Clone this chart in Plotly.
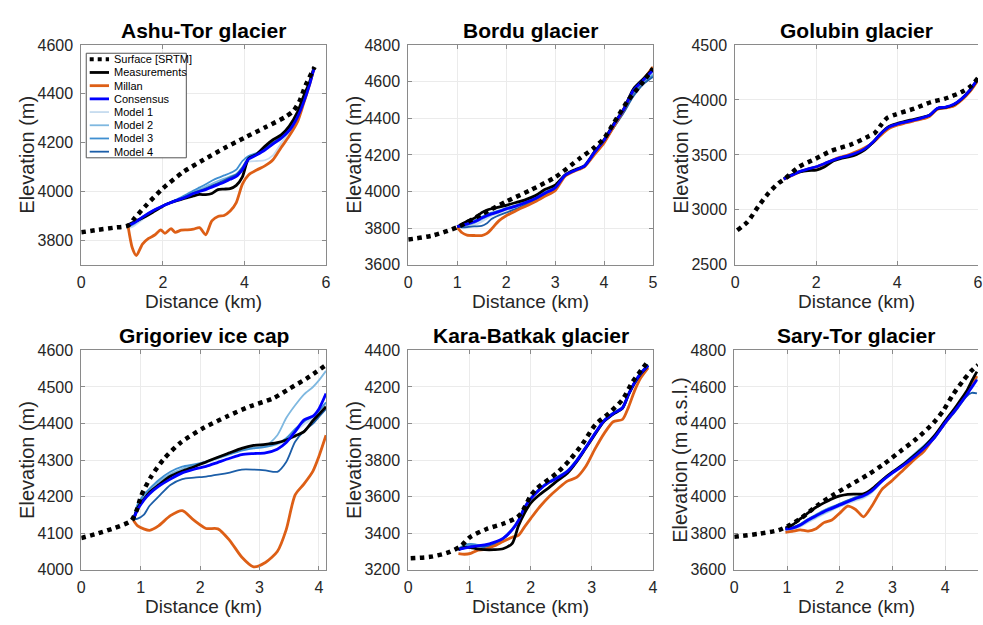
import plotly.graph_objects as go

FIG_W, FIG_H = 983, 625
FONT = "Liberation Sans, Arial, Helvetica, sans-serif"
TXT = "#262626"

# ---------------- Ashu-Tor glacier ----------------
ashu_srtm_km = [0.0, 0.4, 0.8, 1.15, 1.3, 1.6, 2.0, 2.5, 3.0, 3.5, 4.0, 4.5, 5.0, 5.2, 5.35, 5.5, 5.72]
ashu_srtm_m = [3833, 3843, 3852, 3861, 3890, 3945, 4013, 4080, 4130, 4177, 4220, 4262, 4305, 4330, 4370, 4435, 4510]
ashu_km = [1.15, 1.25, 1.35, 1.5, 1.65, 1.8, 1.95, 2.05, 2.2, 2.3, 2.45, 2.6, 2.75, 2.9, 3.05, 3.2,
           3.35, 3.5, 3.65, 3.8, 3.95, 4.1, 4.3, 4.5, 4.7, 4.9, 5.1, 5.3, 5.45, 5.6, 5.7]
ashu_meas = [3863, 3872, 3880, 3892, 3905, 3920, 3935, 3945, 3955, 3961, 3968, 3975, 3982, 3988, 3987, 3992,
             4008, 4010, 4012, 4025, 4060, 4135, 4152, 4185, 4212, 4232, 4268, 4325, 4390, 4450, 4505]
ashu_millan = [3855, 3770, 3738, 3785, 3808, 3822, 3843, 3829, 3848, 3833, 3842, 3843, 3846, 3852, 3823, 3880,
               3898, 3902, 3920, 3955, 4030, 4068, 4088, 4105, 4130, 4180, 4228, 4285, 4360, 4440, 4500]
ashu_consensus = [3860, 3868, 3878, 3895, 3911, 3925, 3937, 3945, 3955, 3962, 3970, 3980, 3992, 4000, 4008, 4018,
                  4028, 4038, 4050, 4062, 4090, 4132, 4150, 4170, 4195, 4218, 4250, 4305, 4365, 4440, 4500]
ashu_model1 = [3850, 3855, 3866, 3885, 3905, 3921, 3935, 3944, 3955, 3962, 3971, 3982, 3994, 4003, 4012, 4022,
               4033, 4043, 4052, 4062, 4088, 4122, 4125, 4128, 4148, 4198, 4245, 4300, 4362, 4438, 4498]
ashu_model2 = [3855, 3862, 3872, 3890, 3908, 3923, 3936, 3945, 3956, 3964, 3974, 3986, 3999, 4010, 4020, 4032,
               4043, 4053, 4062, 4072, 4100, 4138, 4155, 4172, 4193, 4215, 4248, 4302, 4363, 4440, 4500]
ashu_model3 = [3858, 3866, 3876, 3893, 3910, 3925, 3938, 3947, 3957, 3965, 3976, 3990, 4004, 4017, 4030, 4044,
               4056, 4066, 4076, 4090, 4125, 4145, 4158, 4178, 4200, 4222, 4255, 4308, 4366, 4442, 4500]
ashu_model4 = [3860, 3869, 3879, 3896, 3912, 3926, 3938, 3946, 3956, 3963, 3972, 3983, 3995, 4004, 4013, 4024,
               4035, 4046, 4058, 4070, 4098, 4138, 4155, 4175, 4200, 4222, 4256, 4310, 4368, 4442, 4502]

# ---------------- Bordu glacier ----------------
bordu_srtm_km = [0.0, 0.5, 1.0, 1.5, 2.0, 2.5, 3.0, 3.5, 3.8, 4.0, 4.2, 4.5, 4.8, 5.0]
bordu_srtm_m = [3738, 3760, 3805, 3876, 3945, 4008, 4078, 4180, 4240, 4290, 4375, 4500, 4600, 4672]
bordu_km = [1.0, 1.1, 1.2, 1.35, 1.5, 1.6, 1.7, 1.85, 2.0, 2.2, 2.4, 2.6, 2.8, 3.0, 3.2, 3.4, 3.6, 3.8,
            4.0, 4.2, 4.4, 4.6, 4.8, 5.0]
bordu_meas = [3808, 3822, 3838, 3855, 3885, 3898, 3906, 3915, 3925, 3940, 3956, 3978, 4012, 4035, 4090, 4118,
              4140, 4215, 4282, 4370, 4450, 4560, 4615, 4670]
bordu_millan = [3805, 3775, 3762, 3760, 3760, 3770, 3795, 3840, 3868, 3895, 3920, 3945, 3975, 4005, 4082, 4112,
                4135, 4200, 4265, 4355, 4445, 4550, 4610, 4680]
bordu_consensus = [3808, 3815, 3822, 3835, 3855, 3868, 3878, 3890, 3905, 3920, 3940, 3962, 3992, 4020, 4088, 4115,
                   4140, 4212, 4280, 4365, 4448, 4552, 4608, 4662]
bordu_model1 = [3808, 3800, 3802, 3815, 3835, 3852, 3868, 3882, 3898, 3915, 3936, 3958, 3988, 4018, 4086, 4114,
                4140, 4210, 4278, 4360, 4442, 4545, 4600, 4650]
bordu_model2 = [3808, 3810, 3815, 3828, 3848, 3862, 3874, 3887, 3902, 3918, 3938, 3960, 3990, 4020, 4087, 4115,
                4140, 4210, 4275, 4358, 4440, 4540, 4595, 4640]
bordu_model3 = [3808, 3818, 3828, 3842, 3862, 3875, 3885, 3896, 3910, 3925, 3945, 3968, 3998, 4025, 4088, 4115,
                4138, 4205, 4270, 4350, 4432, 4530, 4590, 4632]
bordu_model4 = [3808, 3805, 3806, 3810, 3812, 3825, 3850, 3870, 3885, 3905, 3930, 3955, 3985, 4015, 4085, 4112,
                4138, 4205, 4272, 4350, 4430, 4520, 4585, 4625]

# ---------------- Golubin glacier ----------------
golubin_srtm_km = [0.05, 0.3, 0.58, 0.83, 1.07, 1.24, 1.57, 1.98, 2.38, 2.88, 3.29, 3.45, 3.6, 3.75, 3.94,
                   4.43, 4.84, 5.17, 5.58, 5.83, 6.0]
golubin_srtm_m = [2815, 2889, 3037, 3155, 3243, 3287, 3390, 3464, 3538, 3597, 3668, 3700, 3770, 3835, 3865,
                  3922, 3981, 4010, 4069, 4128, 4200]
golubin_km = [1.2, 1.4, 1.6, 1.8, 2.0, 2.2, 2.4, 2.6, 2.8, 3.0, 3.2, 3.4, 3.6, 3.8, 4.0, 4.2, 4.4, 4.6,
              4.8, 5.0, 5.2, 5.4, 5.6, 5.8, 6.0]
golubin_meas = [3285, 3320, 3345, 3358, 3362, 3390, 3440, 3465, 3482, 3505, 3545, 3612, 3695, 3758, 3785, 3805,
                3822, 3840, 3860, 3922, 3932, 3955, 4010, 4088, 4192]
golubin_millan = [3278, 3312, 3348, 3370, 3390, 3418, 3452, 3480, 3500, 3530, 3565, 3610, 3680, 3740, 3770, 3790,
                  3808, 3825, 3850, 3915, 3928, 3945, 4000, 4075, 4180]
golubin_consensus = [3280, 3315, 3350, 3372, 3392, 3420, 3450, 3475, 3494, 3520, 3555, 3615, 3695, 3755, 3780,
                     3798, 3815, 3835, 3860, 3925, 3935, 3960, 4012, 4090, 4195]
golubin_model1 = [3272, 3308, 3345, 3368, 3388, 3416, 3447, 3472, 3492, 3518, 3552, 3612, 3692, 3752, 3777, 3795,
                  3812, 3832, 3856, 3920, 3932, 3956, 4008, 4086, 4190]
golubin_model2 = [3276, 3312, 3348, 3371, 3391, 3419, 3449, 3474, 3494, 3520, 3555, 3614, 3694, 3754, 3779, 3797,
                  3814, 3834, 3858, 3923, 3934, 3958, 4010, 4088, 4193]
golubin_model3 = [3282, 3318, 3352, 3374, 3394, 3422, 3452, 3477, 3496, 3522, 3557, 3617, 3697, 3756, 3781, 3799,
                  3816, 3836, 3861, 3926, 3936, 3961, 4013, 4091, 4196]
golubin_model4 = [3279, 3314, 3350, 3372, 3392, 3421, 3451, 3476, 3495, 3521, 3556, 3616, 3696, 3756, 3781, 3799,
                  3816, 3836, 3860, 3925, 3935, 3960, 4012, 4090, 4195]

# ---------------- Grigoriev ice cap ----------------
grig_srtm_km = [0.0, 0.29, 0.57, 0.84, 0.93, 1.01, 1.18, 1.4, 1.68, 2.07, 2.46, 2.84, 3.23, 3.51, 3.79, 4.12]
grig_srtm_m = [4087, 4100, 4115, 4134, 4162, 4203, 4256, 4305, 4349, 4389, 4420, 4447, 4469, 4496, 4523, 4560]
grig_km = [0.88, 0.95, 1.05, 1.15, 1.3, 1.5, 1.7, 1.9, 2.1, 2.3, 2.5, 2.7, 2.9, 3.1, 3.3, 3.45, 3.6, 3.75,
           3.9, 4.0, 4.12]
grig_meas = [4135, 4170, 4192, 4212, 4232, 4256, 4270, 4282, 4295, 4308, 4320, 4332, 4340, 4343, 4348, 4355,
             4366, 4378, 4408, 4425, 4446]
grig_millan = [4135, 4120, 4112, 4108, 4120, 4148, 4162, 4135, 4113, 4112, 4080, 4035, 4008, 4020, 4050, 4110,
               4205, 4235, 4270, 4310, 4368]
grig_consensus = [4140, 4165, 4190, 4208, 4228, 4248, 4265, 4275, 4283, 4294, 4305, 4315, 4318, 4320, 4330, 4348,
                  4378, 4410, 4420, 4440, 4482]
grig_model1 = [4140, 4175, 4198, 4215, 4236, 4258, 4272, 4283, 4292, 4303, 4315, 4327, 4333, 4336, 4342, 4355,
               4378, 4398, 4415, 4430, 4452]
grig_model2 = [4140, 4175, 4200, 4218, 4240, 4262, 4276, 4286, 4296, 4308, 4320, 4330, 4334, 4338, 4368, 4415,
               4450, 4480, 4500, 4518, 4544]
grig_model3 = [4140, 4180, 4205, 4222, 4245, 4268, 4282, 4288, 4296, 4306, 4316, 4326, 4332, 4336, 4345, 4360,
               4385, 4405, 4420, 4435, 4458]
grig_model4 = [4138, 4140, 4150, 4175, 4200, 4232, 4248, 4252, 4255, 4260, 4266, 4274, 4274, 4272, 4268, 4295,
               4350, 4380, 4400, 4418, 4440]

# ---------------- Kara-Batkak glacier ----------------
kara_srtm_km = [0.04, 0.36, 0.63, 0.85, 1.01, 1.28, 1.55, 1.77, 1.85, 2.0, 2.1, 2.42, 2.63, 2.85, 3.06, 3.28,
                3.5, 3.66, 3.82, 3.93]
kara_srtm_m = [3263, 3271, 3292, 3327, 3379, 3423, 3452, 3485, 3510, 3605, 3645, 3727, 3797, 3890, 3995, 4057,
               4130, 4225, 4298, 4344]
kara_km = [0.82, 0.92, 1.02, 1.12, 1.25, 1.4, 1.55, 1.7, 1.8, 1.9, 2.0, 2.15, 2.3, 2.45, 2.6, 2.75, 2.9, 3.05,
           3.2, 3.35, 3.5, 3.6, 3.7, 3.8, 3.92]
kara_meas = [3310, 3322, 3322, 3315, 3310, 3310, 3315, 3345, 3440, 3510, 3565, 3612, 3650, 3690, 3728, 3790,
             3865, 3940, 4012, 4052, 4083, 4158, 4222, 4272, 4316]
kara_millan = [3288, 3285, 3290, 3305, 3312, 3330, 3355, 3378, 3388, 3435, 3480, 3545, 3600, 3645, 3685, 3705,
               3765, 3860, 3945, 4010, 4022, 4090, 4180, 4250, 4305]
kara_consensus = [3312, 3318, 3325, 3330, 3336, 3350, 3372, 3420, 3468, 3540, 3588, 3640, 3678, 3705, 3738, 3795,
                  3868, 3945, 4015, 4055, 4085, 4160, 4225, 4275, 4318]
kara_model1 = [3305, 3328, 3338, 3335, 3332, 3345, 3368, 3415, 3462, 3532, 3582, 3636, 3675, 3702, 3735, 3792,
               3864, 3940, 4010, 4050, 4080, 4155, 4220, 4272, 4315]
kara_model2 = [3308, 3332, 3340, 3338, 3330, 3342, 3370, 3418, 3466, 3536, 3586, 3640, 3678, 3706, 3738, 3796,
               3868, 3944, 4014, 4055, 4086, 4160, 4224, 4275, 4318]
kara_model3 = [3315, 3335, 3342, 3336, 3326, 3340, 3374, 3425, 3474, 3545, 3594, 3646, 3684, 3712, 3744, 3802,
               3874, 3950, 4020, 4060, 4092, 4166, 4230, 4280, 4322]
kara_model4 = [3312, 3325, 3330, 3328, 3325, 3338, 3368, 3418, 3468, 3540, 3590, 3642, 3680, 3708, 3740, 3798,
               3870, 3946, 4016, 4056, 4088, 4162, 4226, 4276, 4318]

# ---------------- Sary-Tor glacier ----------------
sary_srtm_km = [0.0, 0.09, 0.46, 0.84, 1.02, 1.27, 1.58, 1.9, 2.21, 2.52, 2.84, 3.15, 3.46, 3.78, 3.96, 4.15,
                4.34, 4.5, 4.62]
sary_srtm_m = [3780, 3783, 3797, 3817, 3840, 3883, 3953, 4014, 4066, 4118, 4179, 4249, 4318, 4405, 4470, 4560,
               4635, 4690, 4720]
sary_km = [0.97, 1.1, 1.25, 1.4, 1.55, 1.7, 1.85, 2.0, 2.15, 2.3, 2.45, 2.6, 2.8, 3.0, 3.2, 3.4, 3.6, 3.8,
           4.0, 4.2, 4.4, 4.5, 4.6]
sary_meas = [3828, 3845, 3878, 3912, 3942, 3966, 3988, 4004, 4013, 4014, 4015, 4040, 4090, 4135, 4175, 4222,
             4272, 4335, 4415, 4492, 4575, 4632, 4684]
sary_millan = [3805, 3810, 3818, 3812, 3825, 3858, 3872, 3910, 3948, 3930, 3890, 3945, 4040, 4090, 4145, 4200,
               4250, 4330, 4405, 4480, 4560, 4610, 4660]
sary_consensus = [3822, 3828, 3845, 3872, 3895, 3918, 3936, 3955, 3972, 3990, 4005, 4030, 4085, 4130, 4170, 4215,
                  4265, 4325, 4405, 4478, 4555, 4598, 4640]
sary_model1 = [3818, 3822, 3836, 3860, 3882, 3905, 3925, 3945, 3962, 3978, 3992, 4020, 4080, 4128, 4172, 4222,
               4272, 4330, 4408, 4482, 4560, 4602, 4645]
sary_model2 = [3820, 3825, 3840, 3866, 3888, 3910, 3930, 3950, 3968, 3985, 3998, 4025, 4085, 4132, 4176, 4226,
               4276, 4334, 4410, 4484, 4562, 4605, 4648]
sary_model3 = [3824, 3832, 3850, 3878, 3902, 3925, 3944, 3962, 3980, 3996, 4010, 4035, 4090, 4136, 4180, 4230,
               4280, 4338, 4412, 4486, 4562, 4604, 4646]
sary_model4 = [3822, 3830, 3848, 3875, 3898, 3920, 3940, 3960, 3978, 3996, 4012, 4035, 4088, 4132, 4172, 4218,
               4268, 4322, 4400, 4470, 4548, 4568, 4565]

# ---------------- line styles ----------------
SERIES_ORDER = ["Surface [SRTM]", "Measurements", "Millan", "Consensus",
                "Model 1", "Model 2", "Model 3", "Model 4"]
STYLE = {
    "Surface [SRTM]": dict(color="#000000", width=4.5, dash="dot"),
    "Measurements": dict(color="#000000", width=2.8),
    "Millan": dict(color="#DD5F16", width=2.8),
    "Consensus": dict(color="#0000FF", width=2.8),
    "Model 1": dict(color="#c6dbef", width=1.8),
    "Model 2": dict(color="#7fb8e0", width=1.8),
    "Model 3": dict(color="#3f8fd1", width=1.8),
    "Model 4": dict(color="#1c5ea8", width=1.8),
}
# drawing order (bottom to top)
DRAW_ORDER = ["Model 1", "Model 2", "Model 3", "Model 4", "Millan", "Measurements", "Consensus", "Surface [SRTM]"]


def px_x(p):
    return p / FIG_W


def px_y(p):
    return 1 - p / FIG_H


panels = [
    dict(title="Ashu-Tor glacier", ylab="Elevation (m)", box=(78, 325, 38, 264),
         xr=[0, 6], xt=[0, 2, 4, 6], yr=[3700, 4600], yt=list(range(3800, 4601, 200)),
         srtm=(ashu_srtm_km, ashu_srtm_m), km=ashu_km,
         lines={"Measurements": ashu_meas, "Millan": ashu_millan, "Consensus": ashu_consensus,
                "Model 1": ashu_model1, "Model 2": ashu_model2, "Model 3": ashu_model3, "Model 4": ashu_model4}),
    dict(title="Bordu glacier", ylab="Elevation (m)", box=(408, 655, 38, 264),
         xr=[0, 5], xt=[0, 1, 2, 3, 4, 5], yr=[3600, 4800], yt=list(range(3600, 4801, 200)),
         srtm=(bordu_srtm_km, bordu_srtm_m), km=bordu_km,
         lines={"Measurements": bordu_meas, "Millan": bordu_millan, "Consensus": bordu_consensus,
                "Model 1": bordu_model1, "Model 2": bordu_model2, "Model 3": bordu_model3, "Model 4": bordu_model4}),
    dict(title="Golubin glacier", ylab="Elevation (m)", box=(738, 983, 38, 264), open_right=True,
         xr=[0, 6], xt=[0, 2, 4, 6], yr=[2500, 4500], yt=list(range(2500, 4501, 500)),
         srtm=(golubin_srtm_km, golubin_srtm_m), km=golubin_km,
         lines={"Measurements": golubin_meas, "Millan": golubin_millan, "Consensus": golubin_consensus,
                "Model 1": golubin_model1, "Model 2": golubin_model2, "Model 3": golubin_model3,
                "Model 4": golubin_model4}),
    dict(title="Grigoriev ice cap", ylab="Elevation (m)", box=(78, 325, 352, 577.5),
         xr=[0, 4.12], xt=[0, 1, 2, 3, 4], yr=[4000, 4600], yt=list(range(4000, 4601, 100)),
         srtm=(grig_srtm_km, grig_srtm_m), km=grig_km,
         lines={"Measurements": grig_meas, "Millan": grig_millan, "Consensus": grig_consensus,
                "Model 1": grig_model1, "Model 2": grig_model2, "Model 3": grig_model3, "Model 4": grig_model4}),
    dict(title="Kara-Batkak glacier", ylab="Elevation (m)", box=(408, 655, 352, 577.5),
         xr=[0, 4], xt=[0, 1, 2, 3, 4], yr=[3200, 4400], yt=list(range(3200, 4401, 200)),
         srtm=(kara_srtm_km, kara_srtm_m), km=kara_km,
         lines={"Measurements": kara_meas, "Millan": kara_millan, "Consensus": kara_consensus,
                "Model 1": kara_model1, "Model 2": kara_model2, "Model 3": kara_model3, "Model 4": kara_model4}),
    dict(title="Sary-Tor glacier", ylab="Elevation (m a.s.l.)", box=(737, 983, 352, 577.5), open_right=True,
         xr=[0, 4.62], xt=[0, 1, 2, 3, 4], yr=[3600, 4800], yt=list(range(3600, 4801, 200)),
         srtm=(sary_srtm_km, sary_srtm_m), km=sary_km,
         lines={"Measurements": sary_meas, "Millan": sary_millan, "Consensus": sary_consensus,
                "Model 1": sary_model1, "Model 2": sary_model2, "Model 3": sary_model3, "Model 4": sary_model4}),
]

fig = go.Figure()
annotations = []
shapes = []
AXIS_COLOR = "#8a8a8a"
GRID_COLOR = "#ebebeb"

for i, p in enumerate(panels, start=1):
    xa = "x" if i == 1 else f"x{i}"
    ya = "y" if i == 1 else f"y{i}"
    x0, x1, y0, y1 = p["box"]

    for name in DRAW_ORDER:
        st = STYLE[name]
        if name == "Surface [SRTM]":
            xs, ys = p["srtm"]
        else:
            xs, ys = p["km"], p["lines"][name]
        fig.add_trace(go.Scatter(
            x=xs, y=ys, mode="lines", name=name, showlegend=False,
            line=dict(color=st["color"], width=st["width"], dash=st.get("dash", "solid"),
                      shape="spline", smoothing=0.7),
            xaxis=xa, yaxis=ya, hoverinfo="skip"))

    common = dict(showline=True, linecolor=AXIS_COLOR, linewidth=1, showgrid=True, gridcolor=GRID_COLOR,
                  gridwidth=1, zeroline=False, ticks="inside", ticklen=4, tickcolor=AXIS_COLOR,
                  tickfont=dict(family=FONT, size=16, color=TXT))
    fig.layout[f"xaxis{'' if i == 1 else i}"] = dict(
        domain=[px_x(x0), px_x(x1)], range=p["xr"], tickvals=p["xt"], anchor=ya,
        mirror="ticks", ticklabelstandoff=3, **common)
    fig.layout[f"yaxis{'' if i == 1 else i}"] = dict(
        domain=[px_y(y1), px_y(y0)], range=p["yr"], tickvals=p["yt"], anchor=xa,
        mirror=False if p.get("open_right") else "ticks", ticklabelstandoff=4, **common)

    cx = (x0 + x1) / 2
    # panel title
    annotations.append(dict(text=f"<b>{p['title']}</b>", x=px_x(cx), y=px_y(y0 - 15), xref="paper",
                            yref="paper", showarrow=False, xanchor="center", yanchor="middle",
                            font=dict(family=FONT, size=21, color="#000000")))
    # axis titles
    annotations.append(dict(text="Distance (km)", x=px_x(cx), y=px_y(y1 + 38), xref="paper", yref="paper",
                            showarrow=False, xanchor="center", yanchor="middle",
                            font=dict(family=FONT, size=19, color=TXT)))
    annotations.append(dict(text=p["ylab"], x=px_x(x0 - 55), y=px_y((y0 + y1) / 2), xref="paper",
                            yref="paper", showarrow=False, textangle=-90, xanchor="center",
                            yanchor="middle", font=dict(family=FONT, size=20, color=TXT)))

# ---------------- legend box (first panel) ----------------
LEG_L, LEG_R, LEG_T, LEG_B = 83, 184, 46.5, 154
shapes.append(dict(type="rect", xref="paper", yref="paper", x0=px_x(LEG_L), x1=px_x(LEG_R),
                   y0=px_y(LEG_B), y1=px_y(LEG_T), line=dict(color="#555555", width=1),
                   fillcolor="white", layer="above"))
row_y0, row_dy = 52.7, 13.57
for k, name in enumerate(SERIES_ORDER):
    yy = row_y0 + k * row_dy
    st = STYLE[name]
    shapes.append(dict(type="line", xref="paper", yref="paper", x0=px_x(86.5), x1=px_x(106),
                       y0=px_y(yy), y1=px_y(yy), layer="above",
                       line=dict(color=st["color"], width=min(st["width"], 3.5) if name != "Surface [SRTM]" else 4,
                                 dash=st.get("dash", "solid"))))
    annotations.append(dict(text=name, x=px_x(108.5), y=px_y(yy), xref="paper", yref="paper",
                            showarrow=False, xanchor="left", yanchor="middle",
                            font=dict(family=FONT, size=11, color="#000000")))

fig.update_layout(width=FIG_W, height=FIG_H, margin=dict(l=0, r=0, t=0, b=0),
                  paper_bgcolor="white", plot_bgcolor="white", showlegend=False,
                  annotations=annotations, shapes=shapes)

fig.write_html("out.html")
